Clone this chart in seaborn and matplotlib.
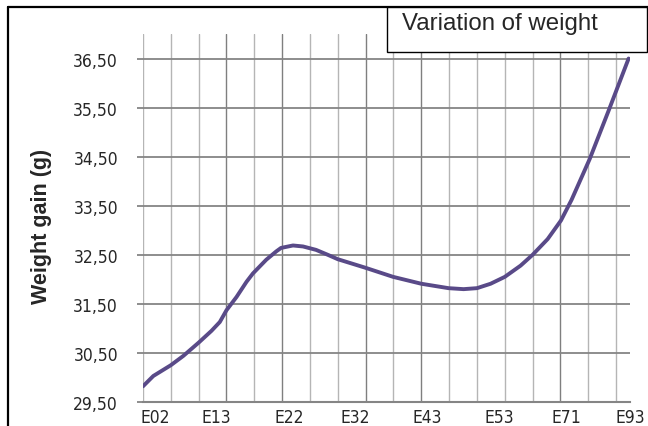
import matplotlib
matplotlib.use("Agg")
import matplotlib.pyplot as plt
import seaborn as sns
import numpy as np
from matplotlib.lines import Line2D
from matplotlib.patches import Rectangle

# ---- data ----
sample_pos = [0.0, 0.37, 1.0, 1.45, 2.0, 2.46, 2.76, 3.0, 3.36, 3.72, 3.95,
              4.43, 4.79, 4.96, 5.39, 5.75, 6.22, 6.64, 7.0, 7.97, 8.99,
              10.0, 10.98, 11.52, 12.0, 12.49, 13.0, 13.57, 14.0, 14.54,
              15.02, 15.4, 16.05, 16.74, 17.45]
weight_gain = [29.82, 30.03, 30.25, 30.44, 30.71, 30.95, 31.13, 31.37, 31.64,
               31.95, 32.12, 32.40, 32.57, 32.64, 32.69, 32.67, 32.60, 32.50,
               32.41, 32.24, 32.05, 31.91, 31.82, 31.80, 31.82, 31.91, 32.05,
               32.28, 32.50, 32.82, 33.20, 33.62, 34.45, 35.45, 36.50]
tick_labels = ["E02", "E13", "E22", "E32", "E43", "E53", "E71", "E93"]
tick_pos = [0.43, 2.65, 5.27, 7.63, 10.2, 12.8, 15.2, 17.5]
y_ticks = [29.5, 30.5, 31.5, 32.5, 33.5, 34.5, 35.5, 36.5]
legend_text = "Variation of weight"
y_title = "Weight gain (g)"

sns.set_style("white")
plt.rcParams["font.family"] = ["Liberation Sans", "DejaVu Sans"]

fig = plt.figure(figsize=(6.48, 4.27), dpi=100)
W, H = 648, 427
ax = fig.add_axes([143 / W, 24 / H, 487 / W, 368 / H])

# grid lines
dark_v = {3, 5, 8, 10, 15}
for k in range(0, 18):
    ax.axvline(k, color="#7f7f7f" if k in dark_v else "#b5b5b5",
               lw=1.0, zorder=0)
for yv in y_ticks[1:]:
    ax.axhline(yv, color="#858585", lw=1.3, zorder=0)

sns.lineplot(x=sample_pos, y=weight_gain, ax=ax, color="#594a88",
             lw=2.8, sort=False, zorder=3)
for ln in ax.lines[-1:]:
    ln.set_solid_joinstyle("round")
    ln.set_solid_capstyle("round")

ax.set_xlim(0, 17.45)
ax.set_ylim(29.5, 37.0)
for s in ["top", "right", "left"]:
    ax.spines[s].set_visible(False)
ax.spines["bottom"].set_color("#858585")
ax.spines["bottom"].set_linewidth(1.5)

tick_font = ["DejaVu Sans", "Liberation Sans"]
ax.set_yticks(y_ticks)
ax.set_yticklabels([f"{v:.2f}".replace(".", ",") for v in y_ticks],
                   family=tick_font, fontsize=12.5, fontstretch="condensed")
ax.set_xticks(tick_pos)
ax.set_xticklabels(tick_labels, family=tick_font, fontsize=12.5,
                   fontstretch="condensed")
ax.tick_params(axis="y", length=4.5, width=1.3, color="#858585", pad=13.5,
               left=True)
ax.tick_params(axis="x", length=0, pad=4.0)
ax.set_xlabel("")
ax.set_ylabel("")

fig.text(42 / W, 1 - 226 / H, y_title, rotation=90, fontsize=15.5,
         fontweight="bold", ha="center", va="center")

# outer frame
fig.add_artist(Line2D([7.5 / W, 7.5 / W], [0, 1 - 8 / H], color="black",
                      lw=1.6, transform=fig.transFigure))
fig.add_artist(Line2D([7.5 / W, 1], [1 - 8 / H, 1 - 8 / H], color="black",
                      lw=1.6, transform=fig.transFigure))

# legend-like box
fig.add_artist(Rectangle((387 / W, 1 - 53 / H), 260 / W, 45 / H,
                         transform=fig.transFigure, facecolor="white",
                         edgecolor="black", lw=1.0, zorder=5))
fig.text(402 / W, 1 - 24 / H, legend_text, fontsize=17.3, ha="left",
         va="center", zorder=6)

fig.savefig("out.png", dpi=100)
